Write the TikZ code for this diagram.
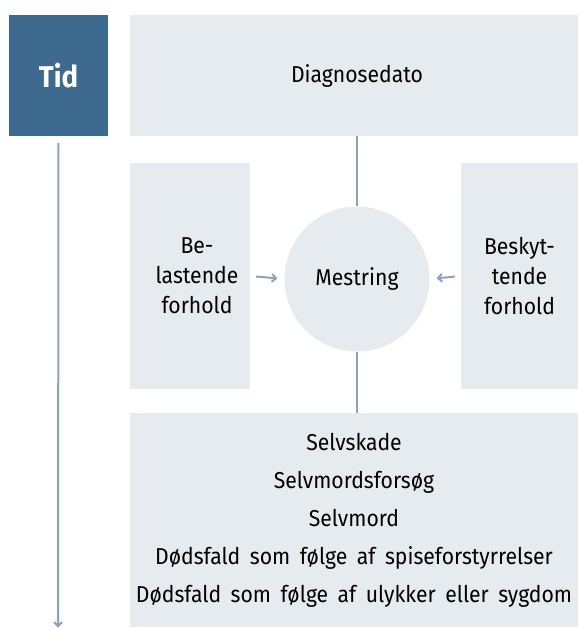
\documentclass[tikz,border=0pt]{standalone}
\usepackage{fontspec}
\setmainfont{Fira Sans}[FakeStretch=0.92, WordSpace=1.7]
\usetikzlibrary{arrows.meta}
\definecolor{tidblue}{HTML}{3F6A8F}
\definecolor{boxgrey}{HTML}{E6EBEF}
\definecolor{linjeblue}{HTML}{8AA3BC}
\tikzset{>={Straight Barb[length=4pt,width=8pt]}}
\tikzset{
  felt/.style={fill=boxgrey, inner sep=0pt, align=center, font=\fontsize{23}{30}\selectfont},
  linje/.style={draw=linjeblue, line width=2pt}
}

\begin{document}
\begin{tikzpicture}[x=1pt,y=-1pt]
\useasboundingbox (0,0) rectangle (579,628);
\node[fill=tidblue, text=white, minimum width=99pt, minimum height=121pt, font=\fontsize{30}{30}\selectfont\bfseries] (tid) at (58.5,75.5) {Tid};
\node[felt, minimum width=448pt, minimum height=121pt] (diag) at (354,75.5) {\hspace{6pt}Diagnosedato};
\node[felt, minimum width=120pt, minimum height=226pt] (belast) at (190,276) {\hspace{14pt}Be-\\\hspace{14pt}lastende\\\hspace{14pt}forhold};
\node[felt, minimum width=117pt, minimum height=226pt] (beskyt) at (519.5,276) {Beskyt-\\tende\\forhold};
\node[felt, circle, minimum size=145pt] (mest) at (357,279) {Mestring};
\node[felt, minimum width=448pt, minimum height=214pt, font=\fontsize{23}{38}\selectfont] (udfald) at (354,520)
  {Selvskade\\Selvmordsforsøg\\Selvmord\\Dødsfald som følge af spiseforstyrrelser\\Dødsfald som følge af ulykker eller sygdom};
\coordinate (slut) at (58,627.5);
% forbindelser
\draw[linje] (mest |- diag.south) -- (mest.north);
\draw[linje] (mest.south) -- (mest |- udfald.north);
\draw[linje, ->, shorten <=6pt, shorten >=7pt] (belast.east) -- (mest.west);
\draw[linje, ->, shorten <=6pt, shorten >=7pt] (beskyt.west) -- (mest.east);
% tidslinje
\draw[linje, ->, shorten <=7pt] (tid.south) -- (slut);
\end{tikzpicture}
\end{document}
